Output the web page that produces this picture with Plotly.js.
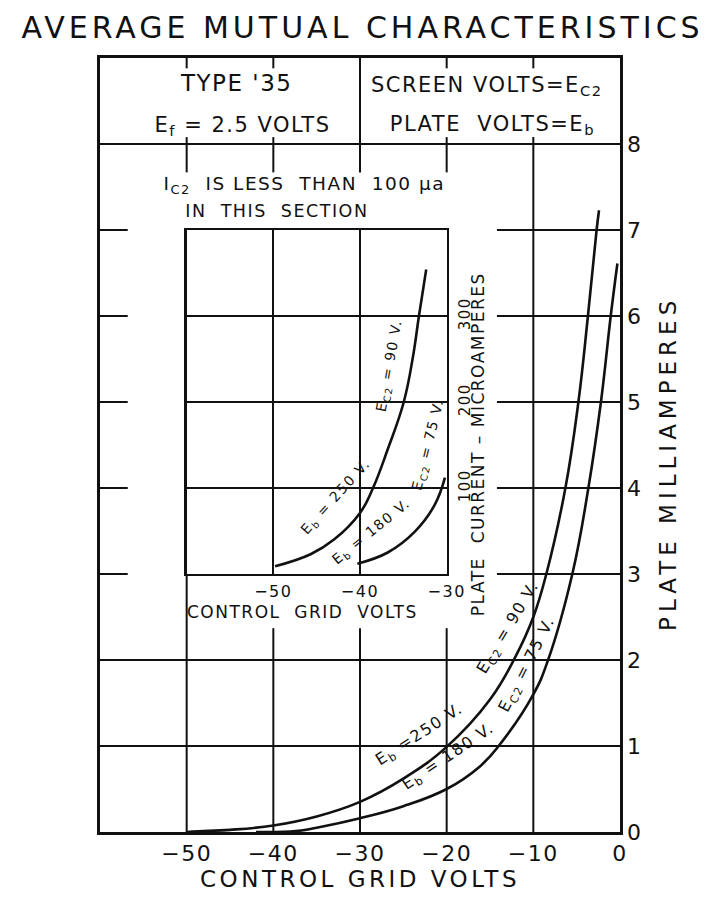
<!DOCTYPE html>
<html><head><meta charset="utf-8">
<script src="https://cdn.plot.ly/plotly-3.0.1.min.js"></script>
<style>
html,body{margin:0;padding:0;background:#fff;}
#chart{width:711px;height:897px;}
.main-svg text{letter-spacing:1.5px;}
.main-svg .gtitle{letter-spacing:4px;}
.main-svg .xtitle{letter-spacing:3.5px;}
.main-svg .annotation[data-index="16"] text{letter-spacing:5px;}
</style>
</head><body><div id="chart"></div>
<script>
// ---- main chart data (control grid volts vs plate milliamperes) ----
const mainTickX = [-50, -40, -30, -20, -10, 0];
const mainTickY = [0, 1, 2, 3, 4, 5, 6, 7, 8];
const mainX_Ec2_90 = [-50, -48.6, -45, -40, -35, -30, -25, -20, -15, -12, -10, -8.5, -6.3, -4.8, -3.7, -2.7, -2.42];
const mainY_Ec2_90 = [0, 0.008, 0.025, 0.075, 0.18, 0.35, 0.62, 0.99, 1.54, 2.05, 2.5, 3.0, 4.0, 5.0, 6.0, 7.0, 7.23];
const mainX_Ec2_75 = [-42, -37.4, -35, -30, -25, -20, -16.2, -14.0, -10, -8.3, -5.5, -3.65, -2.2, -1.07, -0.3];
const mainY_Ec2_75 = [0, 0.01, 0.05, 0.16, 0.3, 0.5, 0.76, 1.0, 1.6, 2.0, 3.0, 4.0, 5.0, 6.0, 6.61];
// ---- inset data (control grid volts vs plate microamperes) ----
const insetTickX = [-50, -40, -30];
const insetTickY = [100, 200, 300];
const insetX_Ec2_90 = [-49.8, -45.7, -43.0, -40, -38.5, -36.8, -34.95, -33.9, -33.2, -32.36];
const insetY_Ec2_90 = [9, 23, 40, 71, 100, 145, 200, 252, 300, 354];
const insetX_Ec2_75 = [-40.3, -36.8, -33.7, -31.4, -30.2];
const insetY_Ec2_75 = [12, 25, 49, 80, 112];

const INK = '#111';
const FONT = 'DejaVu Sans';

const line = {color: INK, width: 2.6, shape: 'spline', smoothing: 1.2};
const traces = [
  {x: mainX_Ec2_90, y: mainY_Ec2_90, xaxis: 'x', yaxis: 'y', mode: 'lines', line: line, hoverinfo: 'skip'},
  {x: mainX_Ec2_75, y: mainY_Ec2_75, xaxis: 'x', yaxis: 'y', mode: 'lines', line: line, hoverinfo: 'skip'},
  {x: insetX_Ec2_90, y: insetY_Ec2_90, xaxis: 'x2', yaxis: 'y2', mode: 'lines', line: line, hoverinfo: 'skip'},
  {x: insetX_Ec2_75, y: insetY_Ec2_75, xaxis: 'x2', yaxis: 'y2', mode: 'lines', line: line, hoverinfo: 'skip'}
];

function hl(y, x0, x1) { return {type: 'line', xref: 'x', yref: 'y', x0: x0, x1: x1, y0: y, y1: y, line: {color: INK, width: 2}}; }
function vl(x, y0, y1) { return {type: 'line', xref: 'x', yref: 'y', x0: x, x1: x, y0: y0, y1: y1, line: {color: INK, width: 2}}; }

const shapes = [hl(1, -60, 0), hl(2, -60, 0), hl(8, -60, 0)];
[3, 4, 5, 6, 7].forEach(function (y) { shapes.push(hl(y, -60, -56.8)); shapes.push(hl(y, -14.2, 0)); });
shapes.push(vl(-50, 0, 3), vl(-40, 0, 2.37), vl(-30, 0, 2.37), vl(-20, 0, 2.37), vl(-10, 0, 8.08));
[-50, -40, -20].forEach(function (x) { shapes.push(vl(x, 7.67, 8.08)); shapes.push(vl(x, 8.88, 9)); });
shapes.push(vl(-30, 7.67, 9), vl(-10, 8.88, 9));

function ann(text, x, y, size, angle, xref, yref) {
  return {text: text, x: x, y: y, xref: xref || 'x', yref: yref || 'y', showarrow: false,
          textangle: angle || 0, font: {family: FONT, size: size, color: INK}};
}
const annotations = [
  ann("TYPE '35", -44.3, 8.71, 23),
  ann('E<sub>f</sub> = 2.5 VOLTS', -43.6, 8.21, 21),
  ann('SCREEN VOLTS=E<sub>C2</sub>', -15.4, 8.68, 21),
  ann('PLATE  VOLTS=E<sub>b</sub>', -14.7, 8.22, 21),
  ann('I<sub>C2</sub>  IS LESS  THAN  100 μa', -36.4, 7.52, 18.5),
  ann('IN  THIS  SECTION', -39.6, 7.22, 17.5),
  // main curve labels
  ann('E<sub>b</sub> =250 V.', -23.1, 1.13, 16, -33),
  ann('E<sub>C2</sub> = 90 V.', -12.9, 2.38, 16, -59),
  ann('E<sub>b</sub> = 180 V.', -19.8, 0.88, 16, -34),
  ann('E<sub>C2</sub> = 75 V.', -10.7, 1.95, 16, -63),
  // inset curve labels
  ann('E<sub>C2</sub> = 90 V.', -26.6, 5.42, 14, -80),
  ann('E<sub>b</sub> = 250 V.', -32.8, 3.9, 14, -48),
  ann('E<sub>C2</sub> = 75 V.', -22.1, 4.5, 14, -76),
  ann('E<sub>b</sub> = 180 V.', -28.7, 3.49, 14, -39),
  // inset axis titles
  ann('CONTROL  GRID  VOLTS', -36.6, 2.56, 17),
  ann('PLATE  CURRENT – MICROAMPERES', -16.35, 4.51, 17, -90),
  // main y axis title (index 16, placed to match the reference's offset)
  ann('PLATE MILLIAMPERES', 1.121, 0.4767, 23, -90, 'paper', 'paper')
];

const axisBase = {showgrid: false, zeroline: false, showline: true, mirror: true, linecolor: INK, ticks: '', fixedrange: true};

const layout = {
  width: 711, height: 897,
  margin: {l: 100, r: 91, t: 58, b: 65},
  paper_bgcolor: '#fff', plot_bgcolor: '#fff',
  showlegend: false,
  font: {family: FONT, color: INK},
  title: {text: 'AVERAGE MUTUAL CHARACTERISTICS', font: {family: FONT, size: 30, color: INK},
          xref: 'container', x: 0.51, xanchor: 'center', yref: 'container', y: 0.969, yanchor: 'middle'},
  xaxis: Object.assign({}, axisBase, {range: [-60, 0], domain: [0, 1], anchor: 'y', linewidth: 2.8,
          tickmode: 'array', tickvals: mainTickX, tickfont: {family: FONT, size: 22, color: INK},
          title: {text: 'CONTROL GRID VOLTS', font: {family: FONT, size: 23, color: INK}, standoff: 3}}),
  yaxis: Object.assign({}, axisBase, {range: [0, 9], domain: [0, 1], anchor: 'x', side: 'right', linewidth: 2.6,
          tickmode: 'array', tickvals: mainTickY, tickfont: {family: FONT, size: 22, color: INK}, ticklabelstandoff: 0}),
  xaxis2: Object.assign({}, axisBase, {range: [-60, -30], domain: [1 / 6, 2 / 3], anchor: 'y2', linewidth: 2.2,
          showgrid: true, gridcolor: INK, gridwidth: 2,
          tickmode: 'array', tickvals: insetTickX, tickfont: {family: FONT, size: 16, color: INK}, ticklabelstandoff: 2}),
  yaxis2: Object.assign({}, axisBase, {range: [0, 400], domain: [3 / 9, 7 / 9], anchor: 'x2', side: 'right', linewidth: 2.2,
          showgrid: true, gridcolor: INK, gridwidth: 2,
          tickmode: 'array', tickvals: insetTickY, tickangle: -90, tickfont: {family: FONT, size: 15, color: INK}, ticklabelstandoff: 3}),
  shapes: shapes,
  annotations: annotations
};

Plotly.newPlot('chart', traces, layout, {displayModeBar: false, staticPlot: true});
</script></body></html>
